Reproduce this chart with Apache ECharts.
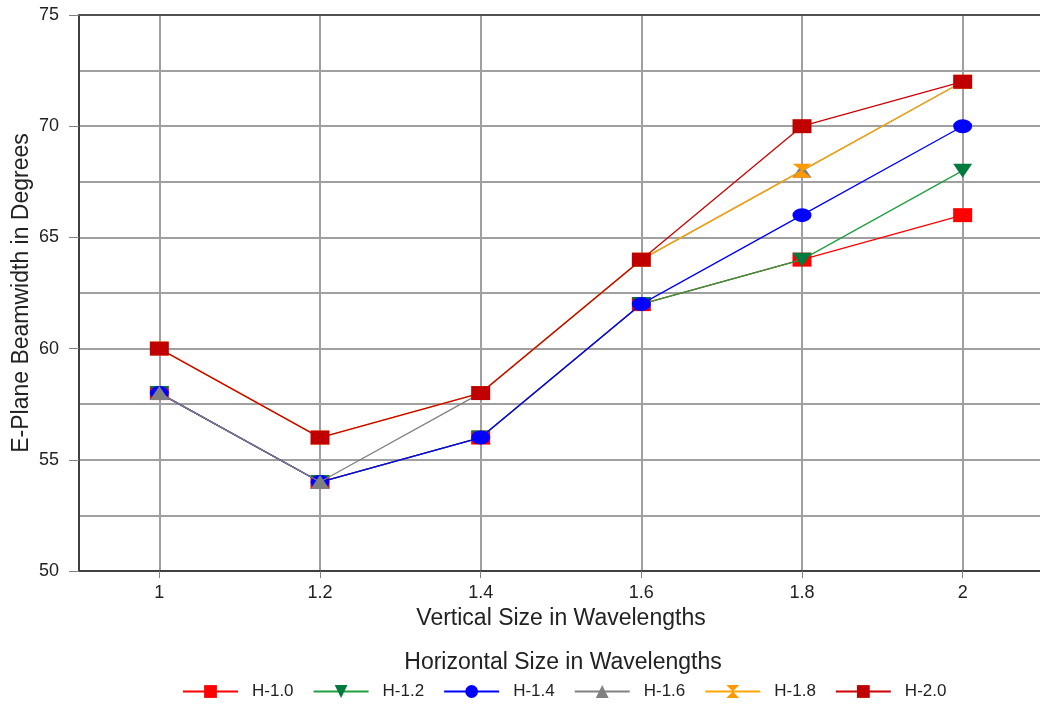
<!DOCTYPE html>
<html><head><meta charset="utf-8">
<script src="https://cdn.jsdelivr.net/npm/echarts@6/dist/echarts.min.js"></script>
<style>html,body{margin:0;padding:0;background:#fff}#c{width:1040px;height:711px}</style>
</head><body><div id="c"></div>
<script>
const xValues = [1, 1.2, 1.4, 1.6, 1.8, 2];
const xTicks = [1, 1.2, 1.4, 1.6, 1.8, 2];
const seriesNames = ['H-1.0', 'H-1.2', 'H-1.4', 'H-1.6', 'H-1.8', 'H-2.0'];
const h10 = [58, 54, 56, 62, 64, 66];
const h12 = [58, 54, 56, 62, 64, 68];
const h14 = [58, 54, 56, 62, 66, 70];
const h16 = [58, 54, 58, 64, 68, 72];
const h18 = [60, 56, 58, 64, 68, 72];
const h20 = [60, 56, 58, 64, 70, 72];
const allValues = [h10, h12, h14, h16, h18, h20];

const lineColors = ['#ff0000', '#20a040', '#0000ff', '#808080', '#ffa500', '#cc0000'];
const markColors = ['#ff0000', '#007a3d', '#0000ff', '#808080', '#ff9900', '#c00000'];
const symbols = ['rect', 'path://M0,0 L10,0 L5,10 Z', 'circle', 'triangle', 'path://M0,0 L10,0 L0,10 L10,10 Z', 'rect'];
const font = 'Liberation Sans';

const chart = echarts.init(document.getElementById('c'), null, {renderer: 'canvas'});
const series = seriesNames.map((n, i) => ({
  name: n, type: 'line',
  data: xValues.map((x, j) => [x, allValues[i][j]]),
  symbol: symbols[i], symbolSize: [19, 14],
  lineStyle: {color: lineColors[i], width: 1.3},
  itemStyle: {color: markColors[i]},
  showSymbol: true, animation: false, z: 3 + i
}));
const gridLine = {show: true, lineStyle: {color: '#a0a0a0', width: 2}};
chart.setOption({
  backgroundColor: '#ffffff',
  animation: false,
  title: {text: 'Horizontal Size in Wavelengths', left: 558, textAlign: 'center', top: 646,
    textStyle: {fontFamily: font, fontSize: 23, fontWeight: 'normal', color: '#222'}},
  grid: {left: 79, top: 15, right: -3, bottom: 140, containLabel: false, outerBoundsMode: 'none'},
  xAxis: [{
    type: 'value', min: 0.9, max: 2.1,
    name: 'Vertical Size in Wavelengths', nameLocation: 'middle', nameGap: 36, nameMoveOverlap: false,
    nameTextStyle: {fontFamily: font, fontSize: 23, color: '#222'},
    axisLine: {show: true, lineStyle: {color: '#404040', width: 2}},
    axisTick: {show: true, customValues: xTicks, length: 7, lineStyle: {color: '#808080'}},
    axisLabel: {customValues: xTicks, fontFamily: font, fontSize: 18, color: '#222', margin: 13,
      formatter: v => String(v)},
    splitLine: gridLine
  }, {
    type: 'value', min: 0.9, max: 2.1, position: 'top',
    axisLine: {show: true, lineStyle: {color: '#505050', width: 2}},
    axisTick: {show: false}, axisLabel: {show: false}, splitLine: {show: false}
  }],
  yAxis: {
    type: 'value', min: 50, max: 75, interval: 5,
    name: 'E-Plane Beamwidth in Degrees', nameLocation: 'middle', nameGap: 46, nameMoveOverlap: false,
    nameTextStyle: {fontFamily: font, fontSize: 23, color: '#222'},
    axisLine: {show: true, lineStyle: {color: '#404040', width: 2}},
    axisTick: {show: true, length: 10, lineStyle: {color: '#808080'}},
    axisLabel: {fontFamily: font, fontSize: 18, color: '#222', margin: 20},
    minorTick: {show: false, splitNumber: 2},
    minorSplitLine: gridLine,
    splitLine: gridLine
  },
  legend: {
    bottom: 6, left: 177, itemWidth: 55, itemHeight: 16, itemGap: 19,
    textStyle: {fontFamily: font, fontSize: 17, color: '#222', padding: [0, 0, 0, 9]},
    data: seriesNames
  },
  series: series
});
</script></body></html>
